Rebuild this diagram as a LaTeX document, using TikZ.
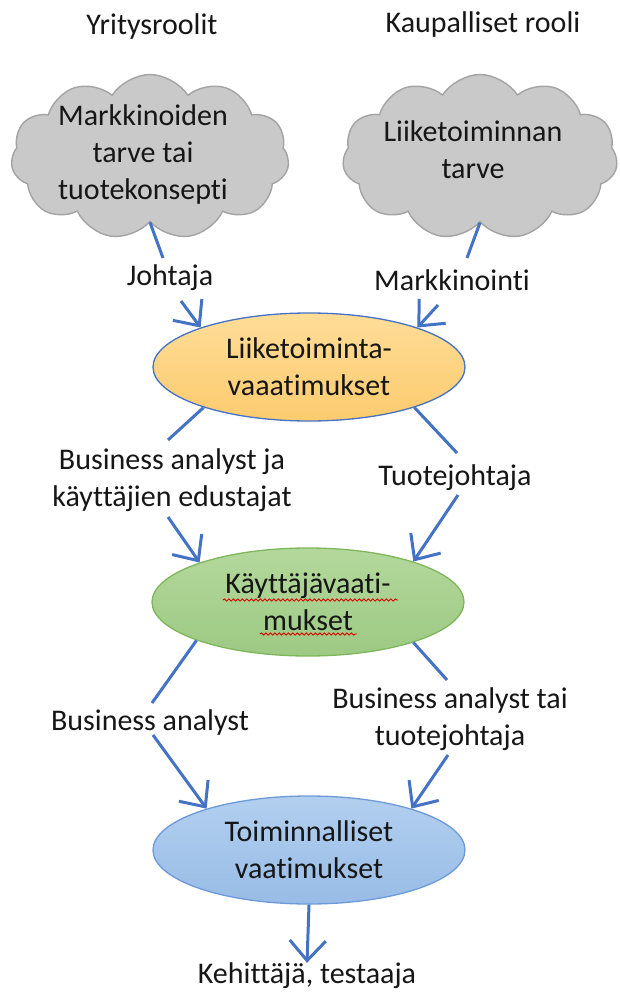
\documentclass[tikz,border=0pt]{standalone}
\usepackage{fontspec}
\setmainfont{Carlito}[Ligatures=NoCommon]
\usetikzlibrary{shapes.geometric,shapes.symbols,arrows.meta,decorations.pathmorphing}

\definecolor{txt}{HTML}{161616}
\definecolor{linkblue}{HTML}{4472C4}
\definecolor{cloudfill}{HTML}{C9C9C9}
\definecolor{cloudline}{HTML}{A3A3A3}
\definecolor{orangetop}{HTML}{FFDD98}
\definecolor{orangebot}{HTML}{FCCB6E}
\definecolor{greentop}{HTML}{B4D89C}
\definecolor{greenbot}{HTML}{9DC983}
\definecolor{greenline}{HTML}{7EB65C}
\definecolor{bluetop}{HTML}{B2CFEF}
\definecolor{bluebot}{HTML}{98BCE6}
\definecolor{blueline}{HTML}{6C9AD8}

\begin{document}
\begin{tikzpicture}[x=1pt,y=-1pt,
  every node/.style={font=\fontsize{30}{37}\selectfont, text=txt},
  label/.style={inner sep=0pt, align=center},
  cloudbox/.style={cloud, cloud puffs=11, cloud puff arc=115, cloud ignores aspect,
    draw=cloudline, line width=1.4pt, fill=cloudfill, inner sep=0pt,
    minimum width=#1, minimum height=165pt},
  reqbox/.style={ellipse, inner sep=0pt, align=center,
    minimum width=312pt, minimum height=108pt, line width=1.3pt},
  link/.style={draw=linkblue, line width=3pt},
  flow/.style={link, -{Straight Barb[length=20pt, width=36pt]}},
  spell/.style={draw=red!85!black, line width=0.9pt,
    decorate, decoration={snake, amplitude=1.1pt, segment length=4.5pt}}
]
\useasboundingbox (0,0) rectangle (619,996);

% column headings
\node[label] (headL) at (152,27) {Yritysroolit};
\node[label] (headR) at (483,25) {Kaupalliset rooli};

% source clouds
\node[cloudbox=278pt] (cL) at (150,157) {};
\node[cloudbox=275pt] (cR) at (480,157) {};
\node[label] (cLt) at (143,154) {Markkinoiden\\tarve tai\\tuotekonsepti};
\node[label] (cRt) at (473,150) {Liiketoiminnan\\tarve};

% requirement levels
\node[reqbox, draw=linkblue, top color=orangetop, bottom color=orangebot]
  (e1) at (309,367) {Liiketoiminta-\\vaaatimukset};
\node[reqbox, draw=greenline, top color=greentop, bottom color=greenbot]
  (e2) at (308,602) {Käyttäjävaati-\\mukset};
\node[reqbox, draw=blueline, top color=bluetop, bottom color=bluebot]
  (e3) at (309,850) {Toiminnalliset\\vaatimukset};

% role labels
\node[label] (lJ) at (170,278) {Johtaja};
\node[label] (lM) at (452,280) {Markkinointi};
\node[label] (lBA1) at (172,480) {Business analyst ja\\käyttäjien edustajat};
\node[label] (lT) at (455,478) {Tuotejohtaja};
\node[label] (lBA2) at (150,722) {Business analyst};
\node[label] (lBT) at (450,719) {Business analyst tai\\tuotejohtaja};
\node[label] (lK) at (307,976) {Kehittäjä, testaaja};

% ends of the connectors beside the role labels
\coordinate (j1) at (163,258);  \coordinate (j2) at (181,301);
\coordinate (m1) at (467,258);  \coordinate (m2) at (438,305);
\coordinate (b1) at (168,440);  \coordinate (b2) at (168,517);
\coordinate (t1) at (457,453);  \coordinate (t2) at (458,495);
\coordinate (a1) at (152,703);  \coordinate (a2) at (153,735);
\coordinate (c1) at (447,680);  \coordinate (c2) at (448,755);

% clouds to business requirements
\draw[link] (cL.south) -- (j1);
\draw[flow] (j2) -- (e1.160);
\draw[link] (cR.south) -- (m1);
\draw[flow] (m2) -- (e1.20);

% business to user requirements
\draw[link] (e1.201) -- (b1);
\draw[flow] (b2) -- (e2.160);
\draw[link] (e1.339) -- (t1);
\draw[flow] (t2) -- (e2.21);

% user to functional requirements
\draw[link] (e2.199) -- (a1);
\draw[flow] (a2) -- (e3.158);
\draw[link] (e2.339) -- (c1);
\draw[flow] (c2) -- (e3.22);

% functional requirements to developers
\draw[flow] (e3.south) -- (lK.north);

% spell-check underlines
\draw[spell] (223,600) -- (398,600);
\draw[spell] (260,634) -- (357,634);
\end{tikzpicture}
\end{document}
